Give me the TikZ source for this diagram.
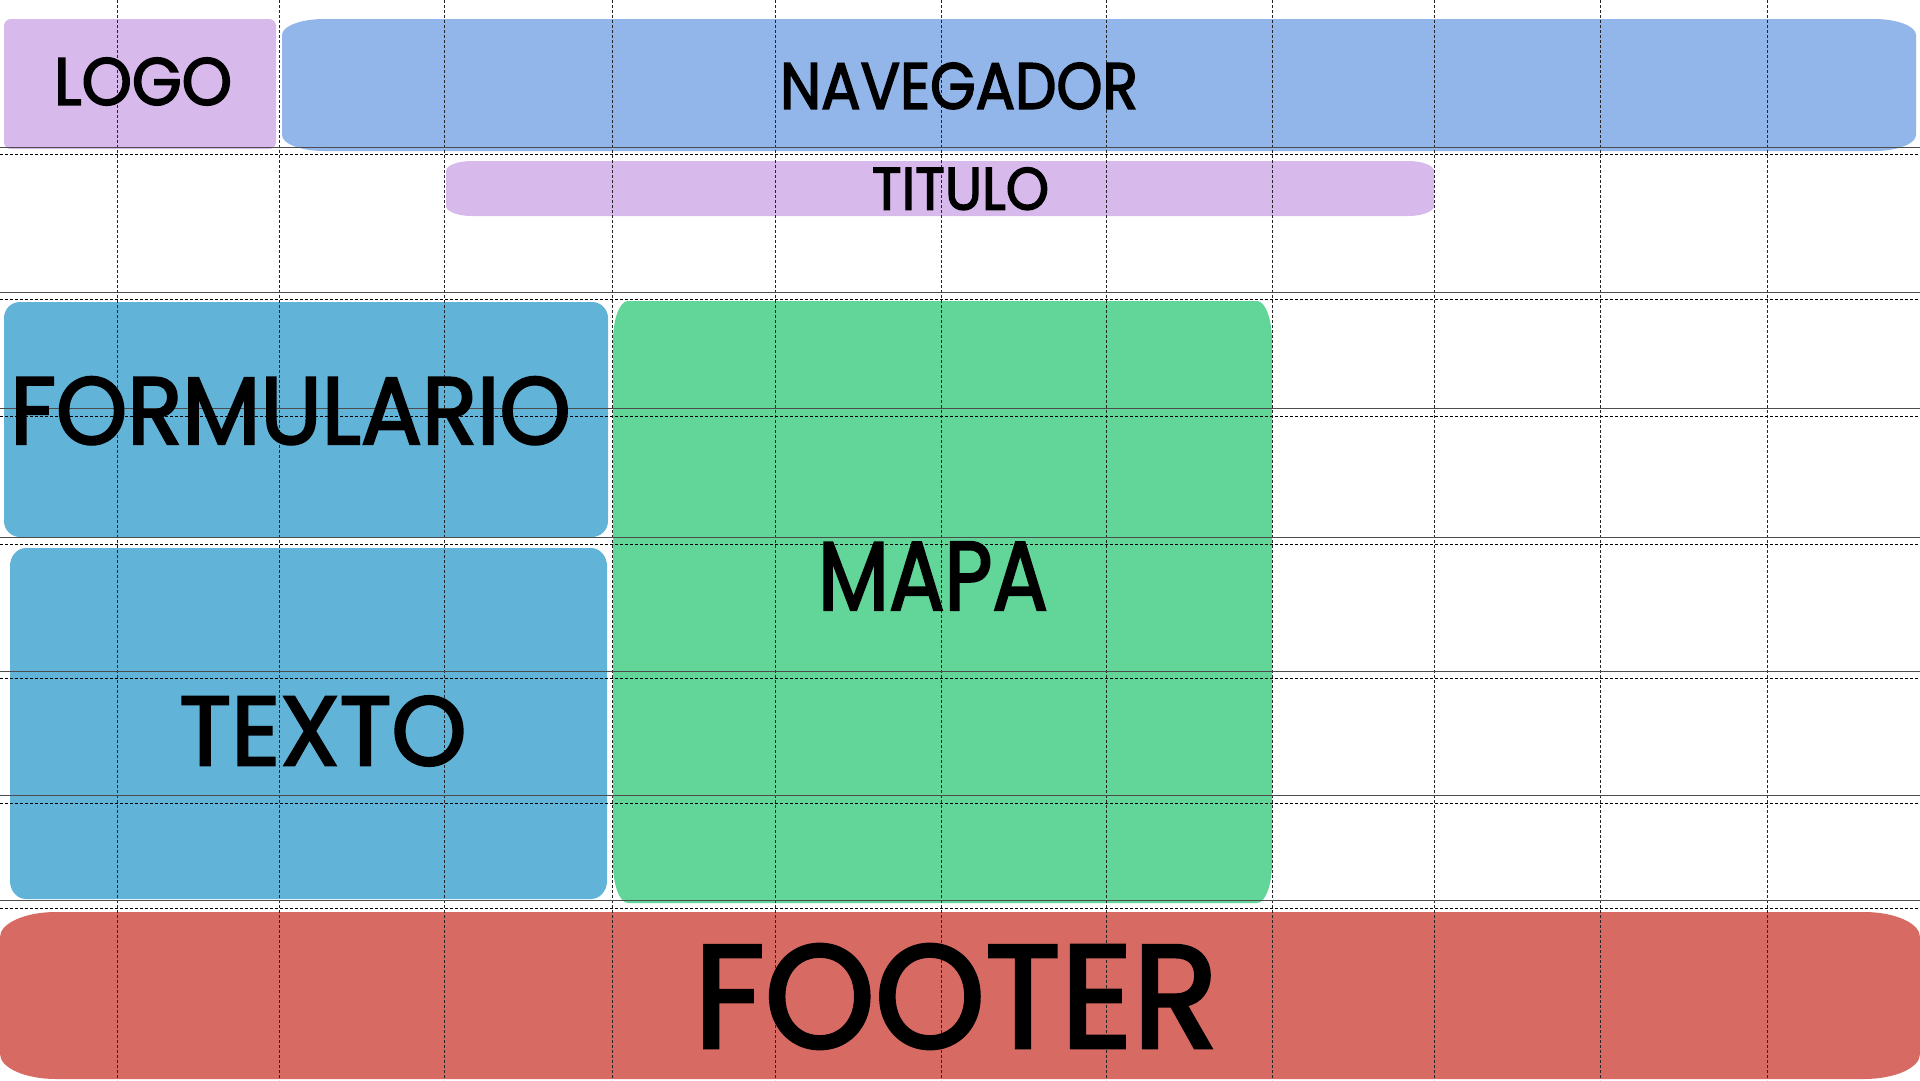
\documentclass[tikz,border=0pt]{standalone}
\usepackage{fontspec}
\setmainfont{Poppins}
\newfontfamily\lblfont{Poppins}[FakeBold=2.5]
\usepackage{graphicx}
\definecolor{lila}{HTML}{D7B9EC}
\definecolor{navblue}{HTML}{92B6E9}
\definecolor{formblue}{HTML}{62B3D8}
\definecolor{mapgreen}{HTML}{62D699}
\definecolor{footred}{HTML}{D76B63}
\newcommand\myebox[7]{%
 \fill[#1] ({#2+#6},#3) -- ({#4-#6},#3) .. controls ({#4-0.448*#6},#3) and (#4,{#3+0.448*#7}) .. (#4,{#3+#7})
  -- (#4,{#5-#7}) .. controls (#4,{#5-0.448*#7}) and ({#4-0.448*#6},#5) .. ({#4-#6},#5)
  -- ({#2+#6},#5) .. controls ({#2+0.448*#6},#5) and (#2,{#5-0.448*#7}) .. (#2,{#5-#7})
  -- (#2,{#3+#7}) .. controls (#2,{#3+0.448*#7}) and ({#2+0.448*#6},#3) .. ({#2+#6},#3) -- cycle;}
\tikzset{
  vline/.style={densely dashed, line width=0.8pt, black!85},
  hlineA/.style={line width=0.7pt, black!70},
  hlineB/.style={densely dashed, line width=0.8pt, black},
  label/.style={inner sep=0pt, text=black, font=\lblfont},
}
\begin{document}
\begin{tikzpicture}[x=1pt, y=-1pt]
\useasboundingbox (0,0) rectangle (1920,1080);
\fill[white] (0,0) rectangle (1920,1080);
% boxes
\myebox{lila}{4}{19}{276}{149}{7}{7}
\myebox{navblue}{282}{19}{1916}{151}{42}{16}
\myebox{lila}{446}{161}{1434}{216}{26}{10}
\myebox{formblue}{4}{302}{608}{537}{16}{16}
\myebox{formblue}{10}{548}{607}{899}{16}{18}
\myebox{mapgreen}{613}{301}{1272}{903}{15}{40}
\myebox{footred}{0}{912}{1920}{1079}{56}{25}
% grid
\foreach \gx in {117,279,444,612,775,941,1106,1272,1434,1600,1767}
  \draw[vline] (\gx,0) -- (\gx,1080);
\foreach \ga/\gb in {147/154,292/299,408/416,537/544,671/678,795/803,900/908}{
  \draw[hlineA] (0,\ga) -- (1920,\ga);
  \draw[hlineB] (0,\gb) -- (1920,\gb);
}
% labels
\node[label] (logo) at (143,81.5) {\resizebox{178pt}{47pt}{LOGO}};
\node[label] (nav) at (959,86) {\resizebox{358pt}{46pt}{NAVEGADOR}};
\node[label] (titulo) at (960.5,188.7) {\resizebox{177pt}{42pt}{TITULO}};
\node[label] (form) at (290.5,410.7) {\resizebox{560pt}{67pt}{FORMULARIO}};
\node[label] (texto) at (323,731) {\resizebox{287pt}{69pt}{TEXTO}};
\node[label] (mapa) at (933,576) {\resizebox{230pt}{68pt}{MAPA}};
\node[label] (footer) at (956,996.5) {\resizebox{524pt}{103pt}{FOOTER}};
\end{tikzpicture}
\end{document}
